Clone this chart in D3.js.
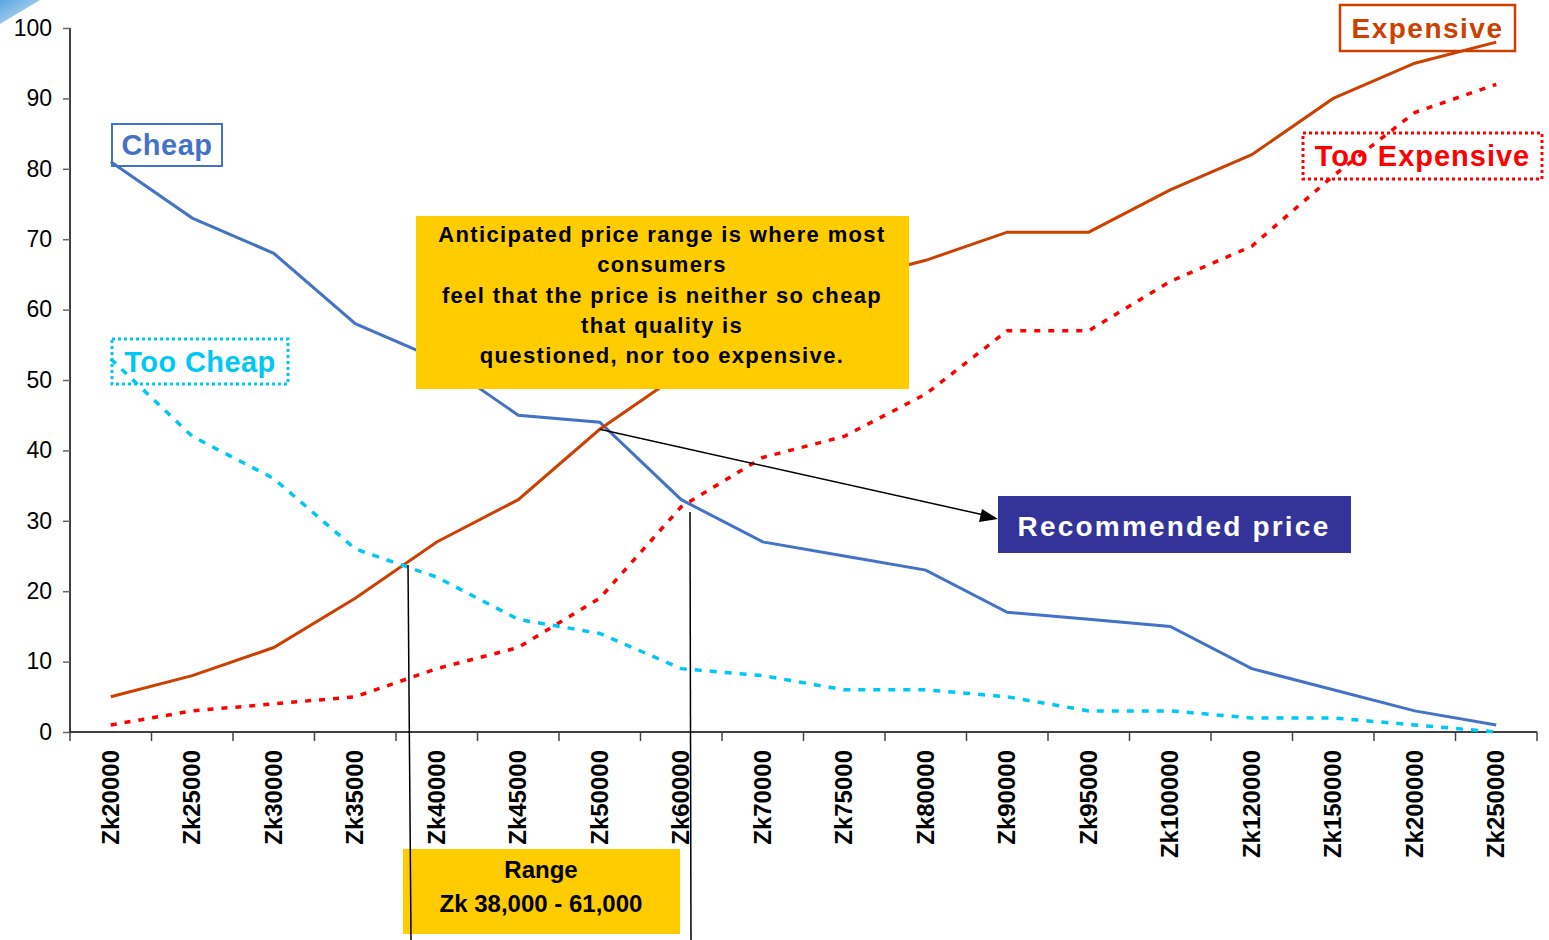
<!DOCTYPE html>
<html><head><meta charset="utf-8">
<script src="https://cdn.jsdelivr.net/npm/d3@7"></script>
<style>
html,body{margin:0;padding:0;background:#fff;}
svg{display:block;font-family:"Liberation Sans",Arial,sans-serif;}
</style></head>
<body><svg id="c" width="1549" height="940"></svg>
<script>
const categories = ["Zk20000","Zk25000","Zk30000","Zk35000","Zk40000","Zk45000","Zk50000","Zk60000","Zk70000","Zk75000","Zk80000","Zk90000","Zk95000","Zk100000","Zk120000","Zk150000","Zk200000","Zk250000"];
const cheap        = [81,73,68,58,53,45,44,33,27,25,23,17,16,15,9,6,3,1];
const tooCheap     = [53,42,36,26,22,16,14,9,8,6,6,5,3,3,2,2,1,0];
const expensive    = [5,8,12,19,27,33,43,51,58,64,67,71,71,77,82,90,95,98];
const tooExpensive = [1,3,4,5,9,12,19,32,39,42,48,57,57,64,69,79,88,92];
const yTicks = [0,10,20,30,40,50,60,70,80,90,100];

const svg = d3.select("#c");

// decorative corner
const defs = svg.append("defs");
const g1 = defs.append("linearGradient").attr("id","corner").attr("x1","0").attr("y1","0").attr("x2","1").attr("y2","1");
g1.append("stop").attr("offset","0").attr("stop-color","#5aa6e0");
g1.append("stop").attr("offset","1").attr("stop-color","#cfe6f7");
svg.append("path").attr("d","M0,0 L40,0 L0,24 Z").attr("fill","url(#corner)");

const x = d3.scalePoint().domain(categories).range([70,1537]).padding(0.5);
const xb = d3.scaleBand().domain(categories).range([70,1537]);
const y = d3.scaleLinear().domain([0,100]).range([732,28]);

// Y axis
const ya = svg.append("g").attr("transform","translate(70,0)")
  .call(d3.axisLeft(y).tickValues(yTicks).tickSize(7).tickPadding(11).tickFormat(d3.format("d")));
ya.select(".domain").attr("stroke","#000").attr("stroke-width",1.5).attr("d","M0,28V732");
ya.selectAll(".tick line").attr("stroke","#666").attr("stroke-width",1.5);
ya.selectAll(".tick text").attr("font-size",23).attr("fill","#000").attr("font-family","Liberation Sans, Arial, sans-serif");

// X axis baseline + boundary ticks
svg.append("line").attr("x1",70).attr("x2",1537).attr("y1",732).attr("y2",732).attr("stroke","#000").attr("stroke-width",1.5);
const bounds = categories.map(c=>xb(c)).concat([xb(categories[categories.length-1])+xb.bandwidth()]);
svg.append("g").selectAll("line").data(bounds).join("line")
  .attr("x1",d=>d).attr("x2",d=>d).attr("y1",732).attr("y2",741).attr("stroke","#444").attr("stroke-width",1.5);
svg.append("g").selectAll("text").data(categories).join("text")
  .attr("transform",d=>`translate(${x(d)+8},750) rotate(-90)`)
  .attr("text-anchor","end").attr("font-size",24).attr("font-weight","bold").text(d=>d);

// series labels (unfilled, drawn under lines)
function label(x0,y0,w,h,txt,col,dash,fs,ls,sw){
  svg.append("rect").attr("x",x0).attr("y",y0).attr("width",w).attr("height",h).attr("fill","none")
    .attr("stroke",col).attr("stroke-width",sw).attr("stroke-dasharray",dash);
  svg.append("text").attr("x",x0+w/2).attr("y",y0+h/2+fs*0.36).attr("text-anchor","middle")
    .attr("font-size",fs).attr("font-weight","bold").attr("letter-spacing",ls).attr("fill",col).text(txt);
}
label(112,124,110,42,"Cheap","#4472C4",null,29,"0.5px",2);
label(112,339,176,45,"Too Cheap","#00C8F5","3,3",29,"0.4px",3);
label(1340,5,175,46,"Expensive","#CC4000",null,28,"1.5px",2.5);
label(1303,133,239,46,"Too Expensive","#FF0000","3,3",29,"1px",3);

// lines
const line = d3.line().x((d,i)=>x(categories[i])).y(d=>y(d));
const series = [
  {v:cheap, c:"#4472C4", w:3, dash:null},
  {v:expensive, c:"#CC4000", w:3, dash:null},
  {v:tooExpensive, c:"#FF0000", w:3.5, dash:"6,8"},
  {v:tooCheap, c:"#00C8F5", w:3.5, dash:"7,8"}
];
series.forEach(s=>{
  svg.append("path").datum(s.v).attr("d",line).attr("fill","none")
    .attr("stroke",s.c).attr("stroke-width",s.w).attr("stroke-dasharray",s.dash);
});

// yellow annotation
svg.append("rect").attr("x",416).attr("y",216).attr("width",493).attr("height",173).attr("fill","#FFCC00");
const ann = ["Anticipated price range is where most","consumers","feel that the price is neither so cheap","that quality is","questioned, nor too expensive."];
svg.append("g").selectAll("text").data(ann).join("text")
  .attr("x",662).attr("y",(d,i)=>242+i*30.3).attr("text-anchor","middle")
  .attr("font-size",22).attr("font-weight","bold").attr("letter-spacing","1.35px").attr("fill","#000").text(d=>d);

// recommended price
svg.append("line").attr("x1",x("Zk50000")).attr("y1",y(43)).attr("x2",984).attr("y2",515).attr("stroke","#000").attr("stroke-width",1.5);
svg.append("path").attr("d","M998,519 L982,509 L979,522 Z").attr("fill","#000");
svg.append("rect").attr("x",998).attr("y",496).attr("width",353).attr("height",57).attr("fill","#333399");
svg.append("text").attr("x",1174).attr("y",536).attr("text-anchor","middle").attr("font-size",28).attr("font-weight","bold")
  .attr("letter-spacing","2.2px").attr("fill","#fff").text("Recommended price");

// range
svg.append("rect").attr("x",403).attr("y",849).attr("width",277).attr("height",85).attr("fill","#FFCC00");
svg.append("text").attr("x",541).attr("y",878).attr("text-anchor","middle").attr("font-size",24).attr("font-weight","bold").text("Range");
svg.append("text").attr("x",541).attr("y",912).attr("text-anchor","middle").attr("font-size",24).attr("font-weight","bold").text("Zk 38,000 - 61,000");
svg.append("line").attr("x1",408).attr("y1",565).attr("x2",411).attr("y2",940).attr("stroke","#000").attr("stroke-width",1.5);
svg.append("line").attr("x1",690).attr("y1",512).attr("x2",691).attr("y2",940).attr("stroke","#000").attr("stroke-width",1.5);
</script></body></html>
